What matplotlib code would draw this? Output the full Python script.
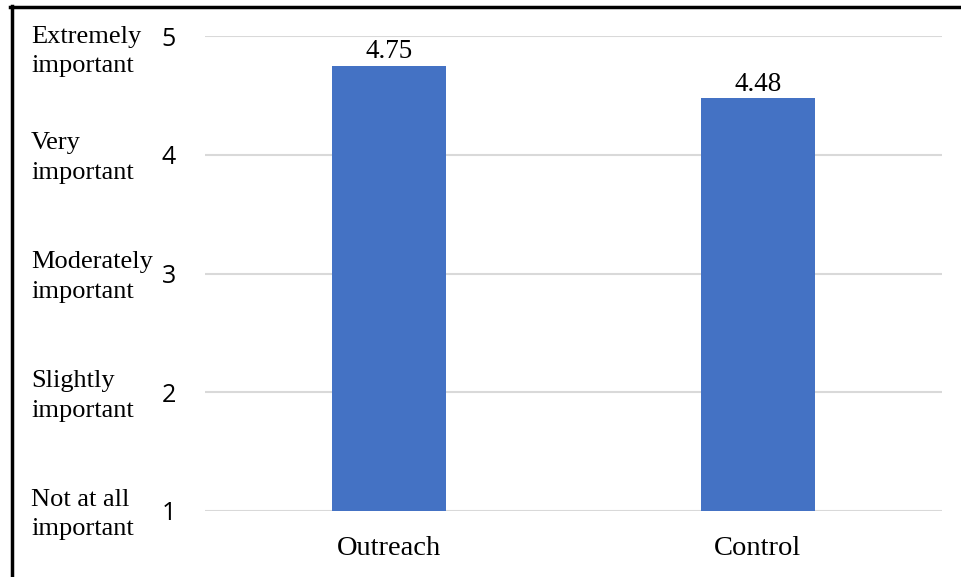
import matplotlib.pyplot as plt
from matplotlib.lines import Line2D
from matplotlib.transforms import blended_transform_factory

groups = ['Outreach', 'Control']
means = [4.75, 4.48]
ticks = [1, 2, 3, 4, 5]
levels = ['Not at all\nimportant', 'Slightly\nimportant', 'Moderately\nimportant',
          'Very\nimportant', 'Extremely\nimportant']

bar_color = '#4472C4'
grid_color = '#d9d9d9'
serif = 'Liberation Serif'

fig = plt.figure(figsize=(9.61, 5.77), dpi=100)
ax = fig.add_axes([205 / 961, 1 - 511 / 577, 737 / 961, 475 / 577])

x = list(range(len(groups)))
ax.bar(x, [m - 1 for m in means], bottom=1, width=0.31, color=bar_color, zorder=3)
for xi, m in zip(x, means):
    ax.text(xi, m + 0.01, '{:.2f}'.format(m), ha='center', va='bottom',
            fontsize=19.5, family=serif, color='#000000')

ax.set_xlim(-0.5, 1.5)
ax.set_ylim(1, 5)
ax.set_yticks(ticks)
ax.set_yticklabels([str(t) for t in ticks], fontsize=18, family='Open Sans')
ax.set_xticks(x)
ax.set_xticklabels(groups, fontsize=20.5, family=serif)
ax.tick_params(axis='y', length=0, pad=21)
ax.tick_params(axis='x', length=0, pad=18)
ax.yaxis.grid(True, color=grid_color, linewidth=1.5, zorder=0)
ax.set_axisbelow(True)
for s in ax.spines.values():
    s.set_visible(False)

# level descriptions to the left of the numeric ticks
trans = blended_transform_factory(fig.transFigure, ax.transData)
for t, lab in zip(ticks, levels):
    y = min(t, 4.9) - 0.03
    fig.text(31 / 961, y, lab, transform=trans, ha='left', va='center',
             fontsize=19, family=serif, linespacing=1.45)

# black frame on left and top
fig.add_artist(Line2D([11.5 / 961, 11.5 / 961], [0, 1 - 6 / 577], transform=fig.transFigure,
                      color='black', linewidth=2.5))
fig.add_artist(Line2D([10 / 961, 1], [1 - 7 / 577, 1 - 7 / 577], transform=fig.transFigure,
                      color='black', linewidth=2.5))

fig.savefig('out.png', dpi=100)
